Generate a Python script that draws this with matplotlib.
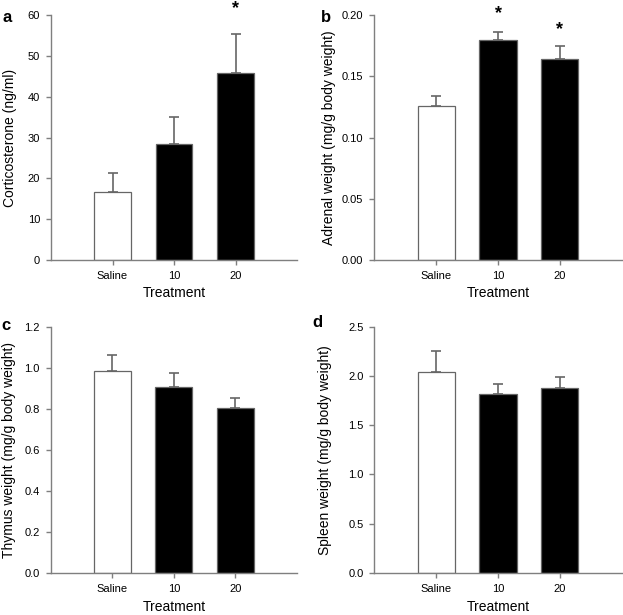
import numpy as np
import matplotlib.pyplot as plt

plt.rcParams['font.family'] = ['Liberation Sans', 'DejaVu Sans']

# data
groups = ['Saline', '10', '20']
cort = [16.7, 28.4, 45.9]
cort_err = [4.5, 6.6, 9.5]
adrenal = [0.126, 0.180, 0.164]
adrenal_err = [0.008, 0.006, 0.011]
thymus = [0.985, 0.905, 0.805]
thymus_err = [0.075, 0.067, 0.046]
spleen = [2.04, 1.82, 1.88]
spleen_err = [0.21, 0.10, 0.11]

# significance stars (group index, y position)
cort_stars = [(2, 61.5)]
adrenal_stars = [(1, 0.2013), (2, 0.1884)]

W, H = 623, 615
fig = plt.figure(figsize=(W/100, H/100), dpi=100)

def px(l, t, r, b):
    return [l/W, (H-b)/H, (r-l)/W, (b-t)/H]

# letter, axes box, values, errors, ylabel, yticks, format, ymax, stars,
# xlabel y (axes frac), ylabel x (axes frac), letter position (px)
panels = [
    ('a', px(51, 15, 297, 260), cort, cort_err, 'Corticosterone (ng/ml)',
     np.arange(0, 61, 10), '%d', 60, cort_stars, -0.135, -0.167, (7.5, 17.5)),
    ('b', px(374.3, 15, 621.7, 260), adrenal, adrenal_err, 'Adrenal weight (mg/g body weight)',
     np.arange(0, 0.201, 0.05), '%.2f', 0.2, adrenal_stars, -0.135, -0.185, (325.5, 17.5)),
    ('c', px(50.7, 326.7, 297, 573), thymus, thymus_err, 'Thymus weight (mg/g body weight)',
     np.arange(0, 1.21, 0.2), '%.1f', 1.2, [], -0.14, -0.171, (6.5, 325)),
    ('d', px(374.3, 326.7, 621.7, 573), spleen, spleen_err, 'Spleen weight (mg/g body weight)',
     np.arange(0, 2.51, 0.5), '%.1f', 2.5, [], -0.14, -0.199, (317.5, 323)),
]

gray = '#7f7f7f'
x = np.arange(len(groups))
for letter, pos, vals, errs, ylab, yt, fmt, ymax, stars, xly, ylx, lpos in panels:
    ax = fig.add_axes(pos)
    colors = ['white', 'black', 'black']
    ax.bar(x, vals, width=0.6, color=colors, edgecolor='#666666', linewidth=0.9, zorder=2)
    ax.errorbar(x, vals, yerr=[np.zeros(3), errs], fmt='none', ecolor='#666666',
                elinewidth=1.2, capsize=3.3, capthick=1.2, zorder=1)
    ax.set_xlim(-1, 3)
    ax.set_ylim(0, ymax)
    ax.set_xticks(x)
    ax.set_xticklabels(groups, fontsize=8)
    ax.set_yticks(yt)
    ax.set_yticklabels([fmt % v for v in yt], fontsize=8)
    for s in ['top', 'right']:
        ax.spines[s].set_visible(False)
    for s in ['left', 'bottom']:
        ax.spines[s].set_color(gray)
        ax.spines[s].set_linewidth(1.0)
    ax.tick_params(color=gray, length=3.3, width=1.0, direction='out', pad=4.5)
    ax.set_xlabel('Treatment', fontsize=10, va='center')
    ax.xaxis.set_label_coords(0.5, xly)
    ax.set_ylabel(ylab, fontsize=10, va='center')
    ax.yaxis.set_label_coords(ylx, 0.5)
    for gi, sy in stars:
        ax.text(x[gi], sy, '*', ha='center', va='center', fontsize=13,
                fontweight='bold', clip_on=False)
    fig.text(lpos[0]/W, 1 - lpos[1]/H, letter, fontsize=12, fontweight='bold',
             ha='center', va='center')

fig.savefig('out.png', dpi=100)
